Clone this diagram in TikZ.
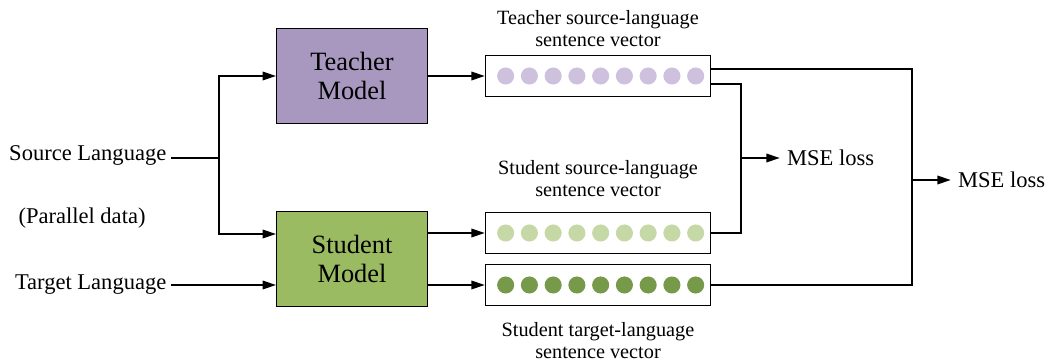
\documentclass[tikz,border=0pt]{standalone}
\usepackage{fontspec}
\setmainfont{Liberation Serif}
\usetikzlibrary{arrows.meta, positioning, calc}
\definecolor{teacherfill}{HTML}{A898BF}
\definecolor{studentfill}{HTML}{9BBB62}
\definecolor{tdot}{HTML}{CDC1DD}
\definecolor{sdot}{HTML}{C6D8A6}
\definecolor{gdot}{HTML}{77994A}

\begin{document}
\begin{tikzpicture}[x=0.75pt, y=-0.75pt,
  model/.style={rectangle, draw=black, line width=1.1pt, minimum width=113pt,
    minimum height=71pt, align=center, font=\fontsize{19.8}{22}\selectfont},
  vecbox/.style={rectangle, draw=black, line width=1pt, minimum width=169pt,
    minimum height=31pt},
  txt/.style={font=\fontsize{16.9}{19}\selectfont},
  lbl/.style={align=center, inner sep=0pt, font=\fontsize{15.2}{16.5}\selectfont},
  arr/.style={-{Triangle[length=10pt, width=6.5pt]}, line width=1pt},
  wire/.style={line width=1pt}]
\useasboundingbox (0,0) rectangle (1054,363);
% models and sentence vectors
\node[model, fill=teacherfill] (teacher) at (352,76) {Teacher\\Model};
\node[model, fill=studentfill] (student) at (352,259) {Student\\Model};
\node[vecbox] (tvec) at (598,76) {};
\node[vecbox] (svec) at (598,233) {};
\node[vecbox] (gvec) at (598,285) {};
\foreach \v/\c in {tvec/tdot, svec/sdot, gvec/gdot}
  \foreach \i in {0,...,8}
    \fill[\c] ($(\v.west)+(21+\i*23.75,0)$) circle (6.4pt);
\node[lbl, above=6pt of tvec] (tlbl) {Teacher source-language\\sentence vector};
\node[lbl, above=11pt of svec] (slbl) {Student source-language\\sentence vector};
\node[lbl, below=12pt of gvec] (glbl) {Student target-language\\sentence vector};
% inputs
\node[txt, anchor=east] (src) at (171,155) {Source Language};
\node[txt] (par) at (82,218) {(Parallel data)};
\node[txt, anchor=east] (tgt) at (171,285) {Target Language};
\coordinate (split) at (219,158);
\draw[wire] (src.east |- split) -- (split);
\draw[arr] (split) |- (teacher.west);
\draw[arr] (split) |- ($(student.west)+(0,-25)$);
\draw[arr] (tgt.east) -- (tgt.east -| student.west);
\draw[arr] (teacher.east) -- (tvec.west);
\draw[arr] (student.east |- svec) -- (svec.west);
\draw[arr] (student.east |- gvec) -- (gvec.west);
% losses
\coordinate (j1) at (741,158);
\coordinate (j2) at (912,180);
\node[txt, right=31pt of j1] (loss1) {MSE loss};
\node[txt, right=31pt of j2] (loss2) {MSE loss};
\draw[wire] ($(tvec.east)+(0,8)$) -| (j1) |- (svec.east);
\draw[wire] ($(tvec.east)+(0,-7)$) -| (j2) |- (gvec.east);
\draw[arr, shorten >=2pt] (j1) -- (loss1.west);
\draw[arr, shorten >=2pt] (j2) -- (loss2.west);
\end{tikzpicture}
\end{document}
